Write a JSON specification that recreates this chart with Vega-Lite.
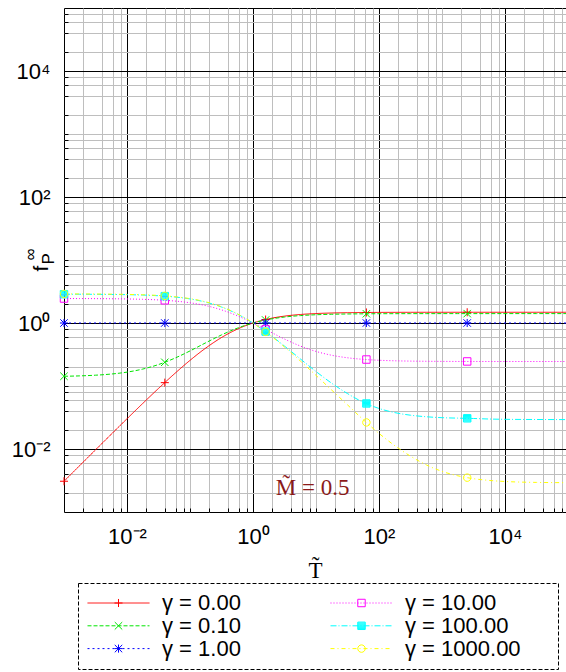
{
  "$schema": "https://vega.github.io/schema/vega-lite/v6.json",
  "width": 502,
  "height": 504,
  "autosize": {"type": "none"},
  "padding": {"left": 64, "top": 8, "right": 0, "bottom": 160},
  "background": "white",
  "config": {
    "view": {"stroke": "#000", "strokeWidth": 1},
    "legend": {
      "orient": "none", "legendX": 14, "legendY": 575, "columns": 2, "clipHeight": 22,
      "symbolSize": 3844, "symbolStrokeWidth": 1, "symbolOffset": 0, "rowPadding": 0.8, "columnPadding": 89,
      "labelOffset": 12, "labelFont": "Liberation Sans", "labelFontSize": 22, "labelColor": "#000", "labelLimit": 0,
      "padding": 9, "gridAlign": "each"
    }
  },
  "resolve": {"axis": {"y": "independent"}},
  "datasets": {
    "curves": [
      {"s":"γ = 0.00","x":0.001,"y":0.003077},{"s":"γ = 0.00","x":0.001778,"y":0.005462},{"s":"γ = 0.00","x":0.003162,"y":0.009685},{"s":"γ = 0.00","x":0.005623,"y":0.01714},{"s":"γ = 0.00","x":0.01,"y":0.0302},{"s":"γ = 0.00","x":0.01778,"y":0.05287},{"s":"γ = 0.00","x":0.03162,"y":0.09147},{"s":"γ = 0.00","x":0.05623,"y":0.1552},{"s":"γ = 0.00","x":0.1,"y":0.2552},{"s":"γ = 0.00","x":0.1778,"y":0.4001},{"s":"γ = 0.00","x":0.3162,"y":0.5878},{"s":"γ = 0.00","x":0.5623,"y":0.7984},{"s":"γ = 0.00","x":1,"y":1.0},{"s":"γ = 0.00","x":1.778,"y":1.165},{"s":"γ = 0.00","x":3.162,"y":1.285},{"s":"γ = 0.00","x":5.623,"y":1.364},{"s":"γ = 0.00","x":10,"y":1.412},{"s":"γ = 0.00","x":17.78,"y":1.441},{"s":"γ = 0.00","x":31.62,"y":1.458},{"s":"γ = 0.00","x":56.23,"y":1.468},{"s":"γ = 0.00","x":100,"y":1.473},{"s":"γ = 0.00","x":177.8,"y":1.476},{"s":"γ = 0.00","x":316.2,"y":1.478},{"s":"γ = 0.00","x":562.3,"y":1.479},{"s":"γ = 0.00","x":1000,"y":1.479},{"s":"γ = 0.00","x":1778,"y":1.48},{"s":"γ = 0.00","x":3162,"y":1.48},{"s":"γ = 0.00","x":5623,"y":1.48},{"s":"γ = 0.00","x":10000,"y":1.48},{"s":"γ = 0.00","x":31620,"y":1.48},{"s":"γ = 0.00","x":100000,"y":1.48},
      {"s":"γ = 0.10","x":0.001,"y":0.1427},{"s":"γ = 0.10","x":0.001778,"y":0.1447},{"s":"γ = 0.10","x":0.003162,"y":0.1484},{"s":"γ = 0.10","x":0.005623,"y":0.1548},{"s":"γ = 0.10","x":0.01,"y":0.1661},{"s":"γ = 0.10","x":0.01778,"y":0.1857},{"s":"γ = 0.10","x":0.03162,"y":0.2191},{"s":"γ = 0.10","x":0.05623,"y":0.2741},{"s":"γ = 0.10","x":0.1,"y":0.3603},{"s":"γ = 0.10","x":0.1778,"y":0.4852},{"s":"γ = 0.10","x":0.3162,"y":0.6466},{"s":"γ = 0.10","x":0.5623,"y":0.8274},{"s":"γ = 0.10","x":1,"y":1.0},{"s":"γ = 0.10","x":1.778,"y":1.141},{"s":"γ = 0.10","x":3.162,"y":1.243},{"s":"γ = 0.10","x":5.623,"y":1.31},{"s":"γ = 0.10","x":10,"y":1.352},{"s":"γ = 0.10","x":17.78,"y":1.376},{"s":"γ = 0.10","x":31.62,"y":1.391},{"s":"γ = 0.10","x":56.23,"y":1.399},{"s":"γ = 0.10","x":100,"y":1.404},{"s":"γ = 0.10","x":177.8,"y":1.406},{"s":"γ = 0.10","x":316.2,"y":1.408},{"s":"γ = 0.10","x":562.3,"y":1.408},{"s":"γ = 0.10","x":1000,"y":1.409},{"s":"γ = 0.10","x":1778,"y":1.409},{"s":"γ = 0.10","x":3162,"y":1.409},{"s":"γ = 0.10","x":5623,"y":1.409},{"s":"γ = 0.10","x":10000,"y":1.41},{"s":"γ = 0.10","x":31620,"y":1.41},{"s":"γ = 0.10","x":100000,"y":1.41},
      {"s":"γ = 1.00","x":0.001,"y":1.0},{"s":"γ = 1.00","x":1,"y":1.0},{"s":"γ = 1.00","x":100000,"y":1.0},
      {"s":"γ = 10.00","x":0.001,"y":2.446},{"s":"γ = 10.00","x":0.001778,"y":2.443},{"s":"γ = 10.00","x":0.003162,"y":2.437},{"s":"γ = 10.00","x":0.005623,"y":2.426},{"s":"γ = 10.00","x":0.01,"y":2.408},{"s":"γ = 10.00","x":0.01778,"y":2.377},{"s":"γ = 10.00","x":0.03162,"y":2.324},{"s":"γ = 10.00","x":0.05623,"y":2.235},{"s":"γ = 10.00","x":0.1,"y":2.095},{"s":"γ = 10.00","x":0.1778,"y":1.889},{"s":"γ = 10.00","x":0.3162,"y":1.617},{"s":"γ = 10.00","x":0.5623,"y":1.305},{"s":"γ = 10.00","x":1,"y":1.0},{"s":"γ = 10.00","x":1.778,"y":0.7444},{"s":"γ = 10.00","x":3.162,"y":0.5566},{"s":"γ = 10.00","x":5.623,"y":0.4317},{"s":"γ = 10.00","x":10,"y":0.354},{"s":"γ = 10.00","x":17.78,"y":0.3075},{"s":"γ = 10.00","x":31.62,"y":0.2805},{"s":"γ = 10.00","x":56.23,"y":0.2649},{"s":"γ = 10.00","x":100,"y":0.2562},{"s":"γ = 10.00","x":177.8,"y":0.2512},{"s":"γ = 10.00","x":316.2,"y":0.2484},{"s":"γ = 10.00","x":562.3,"y":0.2469},{"s":"γ = 10.00","x":1000,"y":0.2459},{"s":"γ = 10.00","x":1778,"y":0.2454},{"s":"γ = 10.00","x":3162,"y":0.2452},{"s":"γ = 10.00","x":5623,"y":0.245},{"s":"γ = 10.00","x":10000,"y":0.2449},{"s":"γ = 10.00","x":31620,"y":0.2448},{"s":"γ = 10.00","x":100000,"y":0.2448},
      {"s":"γ = 100.00","x":0.001,"y":2.865},{"s":"γ = 100.00","x":0.001778,"y":2.86},{"s":"γ = 100.00","x":0.003162,"y":2.853},{"s":"γ = 100.00","x":0.005623,"y":2.84},{"s":"γ = 100.00","x":0.01,"y":2.816},{"s":"γ = 100.00","x":0.01778,"y":2.776},{"s":"γ = 100.00","x":0.03162,"y":2.707},{"s":"γ = 100.00","x":0.05623,"y":2.592},{"s":"γ = 100.00","x":0.1,"y":2.411},{"s":"γ = 100.00","x":0.1778,"y":2.144},{"s":"γ = 100.00","x":0.3162,"y":1.794},{"s":"γ = 100.00","x":0.5623,"y":1.392},{"s":"γ = 100.00","x":1,"y":0.9993},{"s":"γ = 100.00","x":1.778,"y":0.6708},{"s":"γ = 100.00","x":3.162,"y":0.4299},{"s":"γ = 100.00","x":5.623,"y":0.2697},{"s":"γ = 100.00","x":10,"y":0.17},{"s":"γ = 100.00","x":17.78,"y":0.1105},{"s":"γ = 100.00","x":31.62,"y":0.07583},{"s":"γ = 100.00","x":56.23,"y":0.0552},{"s":"γ = 100.00","x":100,"y":0.044},{"s":"γ = 100.00","x":177.8,"y":0.0378},{"s":"γ = 100.00","x":316.2,"y":0.0344},{"s":"γ = 100.00","x":562.3,"y":0.0325},{"s":"γ = 100.00","x":1000,"y":0.0314},{"s":"γ = 100.00","x":1778,"y":0.0309},{"s":"γ = 100.00","x":3162,"y":0.0305},{"s":"γ = 100.00","x":5623,"y":0.0299},{"s":"γ = 100.00","x":10000,"y":0.0296},{"s":"γ = 100.00","x":31620,"y":0.0294},{"s":"γ = 100.00","x":100000,"y":0.0293},
      {"s":"γ = 1000.00","x":0.001,"y":2.894},{"s":"γ = 1000.00","x":0.001778,"y":2.89},{"s":"γ = 1000.00","x":0.003162,"y":2.883},{"s":"γ = 1000.00","x":0.005623,"y":2.869},{"s":"γ = 1000.00","x":0.01,"y":2.846},{"s":"γ = 1000.00","x":0.01778,"y":2.805},{"s":"γ = 1000.00","x":0.03162,"y":2.735},{"s":"γ = 1000.00","x":0.05623,"y":2.62},{"s":"γ = 1000.00","x":0.1,"y":2.436},{"s":"γ = 1000.00","x":0.1778,"y":2.167},{"s":"γ = 1000.00","x":0.3162,"y":1.811},{"s":"γ = 1000.00","x":0.5623,"y":1.402},{"s":"γ = 1000.00","x":1,"y":1.0},{"s":"γ = 1000.00","x":1.778,"y":0.6632},{"s":"γ = 1000.00","x":3.162,"y":0.4154},{"s":"γ = 1000.00","x":5.623,"y":0.2503},{"s":"γ = 1000.00","x":10,"y":0.1474},{"s":"γ = 1000.00","x":17.78,"y":0.086},{"s":"γ = 1000.00","x":31.62,"y":0.0502},{"s":"γ = 1000.00","x":56.23,"y":0.0292},{"s":"γ = 1000.00","x":100,"y":0.0177},{"s":"γ = 1000.00","x":177.8,"y":0.0113},{"s":"γ = 1000.00","x":316.2,"y":0.0077},{"s":"γ = 1000.00","x":562.3,"y":0.0056},{"s":"γ = 1000.00","x":1000,"y":0.00442},{"s":"γ = 1000.00","x":1778,"y":0.00376},{"s":"γ = 1000.00","x":3162,"y":0.00338},{"s":"γ = 1000.00","x":5623,"y":0.00317},{"s":"γ = 1000.00","x":10000,"y":0.00305},{"s":"γ = 1000.00","x":31620,"y":0.00295},{"s":"γ = 1000.00","x":100000,"y":0.00292}
    ],
    "markers": [
      {"m":"0.00","x":0.001,"y":0.003077},{"m":"0.00","x":0.0398,"y":0.113},{"m":"0.00","x":1.585,"y":1.135},{"m":"0.00","x":63.1,"y":1.469},{"m":"0.00","x":2512,"y":1.48},
      {"m":"0.10","x":0.001,"y":0.1427},{"m":"0.10","x":0.0398,"y":0.2379},{"m":"0.10","x":1.585,"y":1.116},{"m":"0.10","x":63.1,"y":1.4},{"m":"0.10","x":2512,"y":1.409},
      {"m":"1.00","x":0.001,"y":1.0},{"m":"1.00","x":0.0398,"y":1.0},{"m":"1.00","x":1.585,"y":1.0},{"m":"1.00","x":63.1,"y":1.0},{"m":"1.00","x":2512,"y":1.0},
      {"m":"10.00","x":0.001,"y":2.446},{"m":"10.00","x":0.0398,"y":2.294},{"m":"10.00","x":1.585,"y":0.79},{"m":"10.00","x":63.1,"y":0.2631},{"m":"10.00","x":2512,"y":0.2453},
      {"m":"100.00","x":0.001,"y":2.865},{"m":"100.00","x":0.0398,"y":2.668},{"m":"100.00","x":1.585,"y":0.73},{"m":"100.00","x":63.1,"y":0.0528},{"m":"100.00","x":2512,"y":0.0307},
      {"m":"1000.00","x":0.001,"y":2.894},{"m":"1000.00","x":0.0398,"y":2.696},{"m":"1000.00","x":1.585,"y":0.724},{"m":"1000.00","x":63.1,"y":0.0264},{"m":"1000.00","x":2512,"y":0.00351}
    ],
    "notes": [{"t": "M\u0303 = 0.5", "x": 2.3, "y": 0.00184}]
  },
  "layer": [
    {
      "data": {"name": "curves"},
      "mark": {"type": "line", "strokeWidth": 1, "clip": true, "interpolate": "monotone"},
      "encoding": {
        "x": {
          "field": "x", "type": "quantitative",
          "scale": {"type": "log", "domain": [0.001, 92960], "nice": false},
          "axis": {
            "values": [0.002,0.004,0.006,0.008,0.01,0.02,0.04,0.06,0.08,0.1,0.2,0.4,0.6,0.8,1,2,4,6,8,10,20,40,60,80,100,200,400,600,800,1000,2000,4000,6000,8000,10000,20000,40000,60000,80000],
            "grid": true,
            "gridColor": {"condition": {"test": "datum.value==0.01||datum.value==1||datum.value==100||datum.value==10000", "value": "#000000"}, "value": "#bebebe"},
            "gridWidth": 1,
            "domain": false,
            "ticks": true, "tickSize": -4, "tickColor": "#000", "tickWidth": 1,
            "labelExpr": "datum.value==0.01?'10⁻²':datum.value==1?'10⁰':datum.value==100?'10²':datum.value==10000?'10⁴':''",
            "labelFont": "Liberation Sans", "labelFontSize": 22, "labelColor": "#000", "labelPadding": 18,
            "labelFlush": false, "labelOverlap": false, "labelBound": false,
            "title": "T\u0303", "titleFont": "Liberation Serif", "titleFontSize": 23, "titleFontWeight": "normal",
            "titleColor": "#000", "titleBaseline": "alphabetic", "titleY": 65
          }
        },
        "y": {
          "field": "y", "type": "quantitative",
          "scale": {"type": "log", "domain": [0.001, 100000], "nice": false},
          "axis": {
            "orient": "left",
            "values": [0.002,0.004,0.006,0.008,0.01,0.02,0.04,0.06,0.08,0.1,0.2,0.4,0.6,0.8,1,2,4,6,8,10,20,40,60,80,100,200,400,600,800,1000,2000,4000,6000,8000,10000,20000,40000,60000,80000],
            "grid": true,
            "gridColor": {"condition": {"test": "datum.value==0.01||datum.value==1||datum.value==100||datum.value==10000", "value": "#000000"}, "value": "#bebebe"},
            "gridWidth": 1,
            "domain": false,
            "ticks": true, "tickSize": -4, "tickColor": "#000", "tickWidth": 1,
            "labelExpr": "datum.value==0.01?'10⁻²':datum.value==1?'10⁰':datum.value==100?'10²':datum.value==10000?'10⁴':''",
            "labelFont": "Liberation Sans", "labelFontSize": 22, "labelColor": "#000", "labelPadding": 18,
            "labelFlush": false, "labelOverlap": false, "labelBound": false,
            "title": "f",
            "titleFont": "Liberation Sans", "titleFontSize": 21, "titleFontWeight": "normal", "titleColor": "#000",
            "titleAlign": "left", "titleBaseline": "alphabetic", "titleAngle": 270,
            "titleX": -17, "titleY": 263
          }
        },
        "color": {
          "field": "s", "type": "nominal",
          "scale": {"domain": ["γ = 0.00", "γ = 0.10", "γ = 1.00", "γ = 10.00", "γ = 100.00", "γ = 1000.00"],
                    "range": ["#ff0000", "#00e600", "#0000ff", "#ff00ff", "#00ffff", "#ffff00"]},
          "legend": {"title": null, "symbolType": "stroke", "labelExpr": "''", "labelOffset": 156, "columnPadding": 24,
                     "encode": {"legend": {"update": {"stroke": {"value": "#000"}, "strokeDash": {"value": [4, 2]}, "strokeWidth": {"value": 1}}}}}
        },
        "strokeDash": {
          "field": "s", "type": "nominal",
          "scale": {"domain": ["γ = 0.00", "γ = 0.10", "γ = 1.00", "γ = 10.00", "γ = 100.00", "γ = 1000.00"],
                    "range": [[1, 0], [4, 2], [2, 3], [1, 2], [6, 2, 1, 2], [4, 3, 1, 3]]},
          "legend": {"title": null, "labelExpr": "''", "labelOffset": 156, "columnPadding": 24}
        }
      }
    },
    {
      "data": {"name": "markers"},
      "mark": {"type": "point", "size": 3844, "strokeWidth": 1, "filled": false, "opacity": 1},
      "encoding": {
        "x": {"field": "x", "type": "quantitative"},
        "y": {"field": "y", "type": "quantitative",
              "axis": {"orient": "left", "grid": false, "labels": false, "ticks": false, "domain": false,
                       "title": "P", "titleFont": "Liberation Sans", "titleFontSize": 17, "titleFontWeight": "normal", "titleColor": "#000",
                       "titleAlign": "left", "titleBaseline": "alphabetic", "titleAngle": 270,
                       "titleX": -11, "titleY": 256}},
        "shape": {
          "field": "m", "type": "nominal",
          "scale": {"domain": ["0.00", "0.10", "1.00", "10.00", "100.00", "1000.00"],
                    "range": [
                      "M-0.13,0H0.13M0,-0.13V0.13",
                      "M-0.12,-0.12L0.12,0.12M-0.12,0.12L0.12,-0.12",
                      "M-0.13,0H0.13M0,-0.13V0.13M-0.12,-0.12L0.12,0.12M-0.12,0.12L0.12,-0.12",
                      "M-0.12,-0.12H0.12V0.12H-0.12Z",
                      "M-0.12,-0.12H0.12V0.12H-0.12ZM-0.12,-0.09H0.12M-0.12,-0.06H0.12M-0.12,-0.03H0.12M-0.12,0H0.12M-0.12,0.03H0.12M-0.12,0.06H0.12M-0.12,0.09H0.12",
                      "M-0.12,0A0.12,0.12,0,1,0,0.12,0A0.12,0.12,0,1,0,-0.12,0Z"
                    ]},
          "legend": {"title": null, "labelExpr": "'γ = ' + datum.label"}
        },
        "stroke": {
          "field": "m", "type": "nominal",
          "scale": {"domain": ["0.00", "0.10", "1.00", "10.00", "100.00", "1000.00"],
                    "range": ["#ff0000", "#00e600", "#0000ff", "#ff00ff", "#00ffff", "#ffff00"]},
          "legend": {"title": null, "labelExpr": "'γ = ' + datum.label"}
        }
      }
    },
    {
      "data": {"name": "notes"},
      "mark": {"type": "text", "align": "left", "baseline": "alphabetic", "font": "Liberation Serif", "fontSize": 23, "color": "#8b1a1a"},
      "encoding": {
        "x": {"field": "x", "type": "quantitative"},
        "y": {"field": "y", "type": "quantitative",
              "axis": {"orient": "left", "grid": false, "labels": false, "ticks": false, "domain": false,
                       "title": "∞", "titleFont": "Liberation Sans", "titleFontSize": 17, "titleFontWeight": "normal", "titleColor": "#000",
                       "titleAlign": "left", "titleBaseline": "alphabetic", "titleAngle": 270,
                       "titleX": -29, "titleY": 252}},
        "text": {"field": "t", "type": "nominal"}
      }
    }
  ]
}
